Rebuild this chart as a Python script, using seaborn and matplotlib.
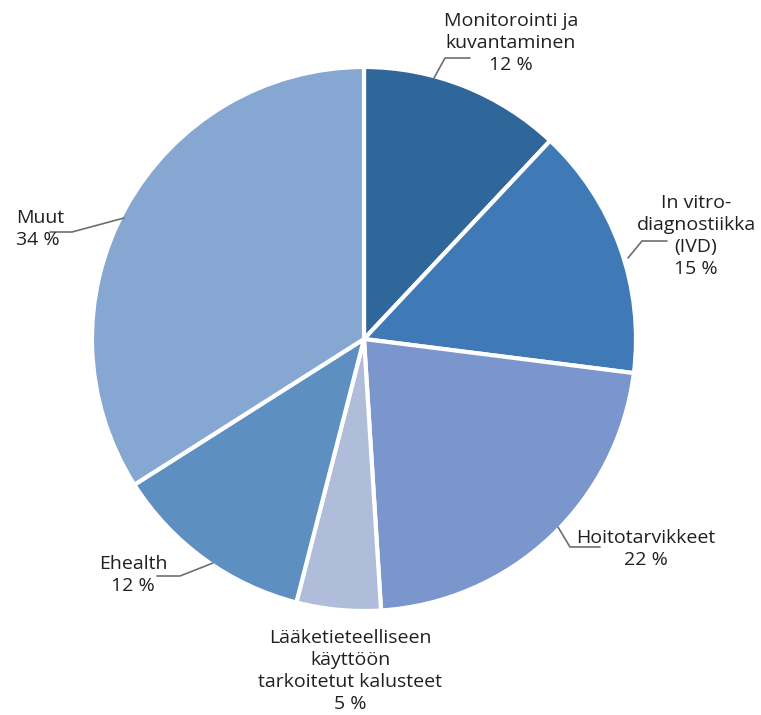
import matplotlib
matplotlib.use("Agg")
import matplotlib.pyplot as plt
import seaborn as sns

sns.set_theme(style="white")
plt.rcParams["font.family"] = ["Open Sans", "DejaVu Sans"]

# Market share by segment
categories = [
    "Monitorointi ja\nkuvantaminen",
    "In vitro-\ndiagnostiikka\n(IVD)",
    "Hoitotarvikkeet",
    "Lääketieteelliseen\nkäyttöön\ntarkoitetut kalusteet",
    "Ehealth",
    "Muut",
]
shares = [12, 15, 22, 5, 12, 34]
colors = ["#30679a", "#3f7ab6", "#7a96cc", "#afbdda", "#5e8fc1", "#85a7d1"]

W, H = 761, 715
fig = plt.figure(figsize=(W / 100, H / 100), dpi=100)
ax = fig.add_axes([0, 0, 1, 1])

cx, cy, r = 364, 339, 272
# y axis runs downward (pixel space), so -90° is the top and
# counterclockwise in data space runs clockwise on screen
ax.pie(
    shares,
    colors=colors,
    startangle=-90,
    counterclock=True,
    center=(cx, cy),
    radius=r,
    frame=True,
    wedgeprops=dict(edgecolor="white", linewidth=3),
)
ax.set_xlim(0, W)
ax.set_ylim(H, 0)
ax.set_aspect("equal")
ax.axis("off")

# Label text anchor, alignment and leader polyline (pixel space)
label_layout = [
    ((511, 43), "center", [(434, 78), (445, 58), (470, 58)]),
    ((696, 236), "center", [(628, 258), (642, 241), (667, 241)]),
    ((646, 549), "center", [(558, 527), (570, 547), (600, 547)]),
    ((350, 671), "center", None),
    ((133, 575), "center", [(213, 563), (180, 576), (157, 576)]),
    ((16, 229), "left", [(124, 218), (72, 232), (50, 232)]),
]

for name, val, (pos, ha, leader) in zip(categories, shares, label_layout):
    ax.text(pos[0], pos[1], f"{name}\n{val} %", ha=ha, va="center",
            fontsize=14, color="#231f20", linespacing=1.27,
            multialignment="center" if ha == "center" else "left")
    if leader:
        xs, ys = zip(*leader)
        ax.plot(xs, ys, color="#6d6e71", lw=1.2, solid_joinstyle="miter")

fig.savefig("out.png", dpi=100)
